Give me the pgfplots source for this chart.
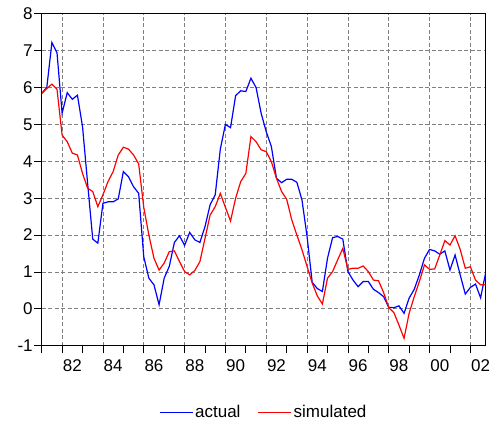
\documentclass[border=0pt]{standalone}
\usepackage{fontspec}
\setmainfont{Liberation Sans}
\usepackage{pgfplots}
\usepackage{pgfplotstable}
\pgfplotsset{compat=1.18}

% quarterly series, 1981Q1--2002Q4
\pgfplotstableread{
t        actual  simulated
1981.00  5.84   5.84
1981.25  6.00   5.97
1981.50  7.22   6.09
1981.75  6.94   5.95
1982.00  5.30   4.71
1982.25  5.86   4.53
1982.50  5.68   4.22
1982.75  5.79   4.17
1983.00  4.94   3.67
1983.25  3.40   3.27
1983.50  1.89   3.18
1983.75  1.78   2.77
1984.00  2.86   3.09
1984.25  2.90   3.45
1984.50  2.90   3.72
1984.75  2.98   4.17
1985.00  3.72   4.38
1985.25  3.58   4.33
1985.50  3.31   4.17
1985.75  3.13   3.93
1986.00  1.41   2.75
1986.25  0.83   2.00
1986.50  0.65   1.37
1986.75  0.11   1.05
1987.00  0.83   1.24
1987.25  1.15   1.55
1987.50  1.80   1.57
1987.75  1.98   1.28
1988.00  1.72   1.01
1988.25  2.07   0.92
1988.50  1.87   1.04
1988.75  1.80   1.28
1989.00  2.23   1.91
1989.25  2.82   2.54
1989.50  3.09   2.77
1989.75  4.33   3.13
1990.00  5.00   2.75
1990.25  4.91   2.38
1990.50  5.78   3.00
1990.75  5.91   3.45
1991.00  5.89   3.67
1991.25  6.25   4.67
1991.50  6.00   4.53
1991.75  5.30   4.31
1992.00  4.80   4.26
1992.25  4.40   3.99
1992.50  3.54   3.54
1992.75  3.42   3.18
1993.00  3.51   2.97
1993.25  3.51   2.41
1993.50  3.43   2.00
1993.75  2.95   1.60
1994.00  1.96   1.15
1994.25  0.72   0.70
1994.50  0.55   0.35
1994.75  0.47   0.13
1995.00  1.37   0.83
1995.25  1.93   1.01
1995.50  1.96   1.33
1995.75  1.89   1.64
1996.00  1.01   1.07
1996.25  0.78   1.10
1996.50  0.60   1.10
1996.75  0.74   1.16
1997.00  0.74   1.01
1997.25  0.53   0.78
1997.50  0.44   0.76
1997.75  0.33   0.44
1998.00  0.04   0.03
1998.25  0.03  -0.10
1998.50  0.08  -0.44
1998.75 -0.12  -0.80
1999.00  0.29  -0.12
1999.25  0.53   0.33
1999.50  0.92   0.74
1999.75  1.37   1.19
2000.00  1.61   1.07
2000.25  1.57   1.08
2000.50  1.48   1.46
2000.75  1.57   1.85
2001.00  1.05   1.73
2001.25  1.46   1.98
2001.50  0.92   1.61
2001.75  0.40   1.10
2002.00  0.58   1.14
2002.25  0.67   0.78
2002.50  0.30   0.65
2002.75  0.98   0.65
}\series

\begin{document}
\begin{tikzpicture}
\begin{axis}[
  scale only axis,
  width=444pt, height=332pt,
  xmin=1981, xmax=2002.75,
  ymin=-1, ymax=8,
  xtick={1982,1984,...,2002},
  xticklabels={},
  minor xtick={1981,1983,...,2001},
  extra x ticks={1982.5,1984.5,...,2002.5},
  extra x tick labels={82,84,86,88,90,92,94,96,98,00,02},
  extra x tick style={major tick length=0pt, grid=none,
    tick label style={yshift=-10pt}},
  ytick={-1,0,...,8},
  xmajorgrids, ymajorgrids,
  grid style={gray, dash pattern=on 4pt off 2.5pt, line width=0.8pt},
  tick align=outside,
  xtick pos=bottom, ytick pos=left,
  major tick length=7.5pt, minor tick length=7.5pt,
  tick style={black, line width=0.8pt},
  axis line style={black, line width=1.3pt},
  /pgf/number format/assume math mode=true,
  ticklabel style={font=\fontsize{17}{20}\selectfont},
  yticklabel style={xshift=2pt},
  legend style={at={(0.5,-0.2)}, anchor=center, draw=none, fill=none,
    font=\fontsize{17}{20}\selectfont, legend columns=2,
    /tikz/every even column/.append style={column sep=15pt}},
  legend image code/.code={\draw[#1] (0pt,0pt) -- (33pt,0pt);},
]
\addplot[blue, line width=1.2pt] table[x=t, y=actual] {\series};
\addlegendentry{actual}
\addplot[red, line width=1.2pt] table[x=t, y=simulated] {\series};
\addlegendentry{simulated}
\end{axis}
\pgfresetboundingbox
\path[use as bounding box] (-41.7pt,-80.2pt) rectangle (453.3pt,345.7pt);
\end{tikzpicture}
\end{document}
